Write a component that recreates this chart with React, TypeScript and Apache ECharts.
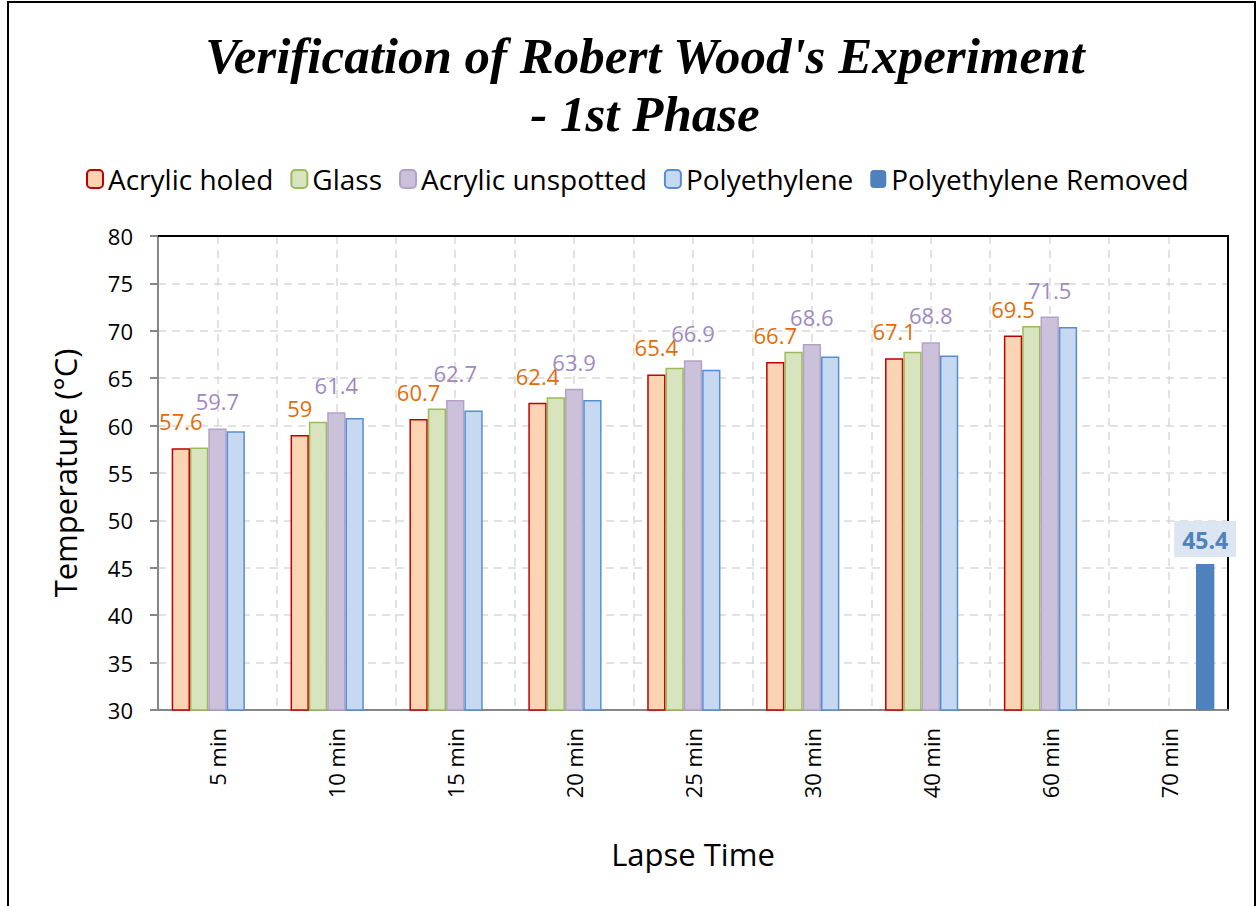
import React, { useEffect, useRef } from "react";
import * as echarts from "echarts";

const categories = ["5 min", "10 min", "15 min", "20 min", "25 min", "30 min", "40 min", "60 min", "70 min"];
const acrylicHoled = [57.6, 59, 60.7, 62.4, 65.4, 66.7, 67.1, 69.5, null];
const glass = [57.7, 60.4, 61.8, 63.0, 66.1, 67.8, 67.8, 70.5, null];
const acrylicUnspotted = [59.7, 61.4, 62.7, 63.9, 66.9, 68.6, 68.8, 71.5, null];
const polyethylene = [59.4, 60.8, 61.6, 62.7, 65.9, 67.3, 67.4, 70.4, null];
const polyethyleneRemoved = [null, null, null, null, null, null, null, null, 45.4];
const yTicks = { min: 30, max: 80, interval: 5 };

const FONT = "'Open Sans', 'Noto Sans', sans-serif";

export default function App() {
  const ref = useRef<HTMLDivElement>(null);
  useEffect(() => {
    if (!ref.current) return;
    const chart = echarts.init(ref.current, undefined, { renderer: "svg" });
    const barBase = { type: "bar", barGap: "0%", barCategoryGap: "23%", xAxisIndex: 0, yAxisIndex: 0 };
    const dataLabel = (color: string) => ({
      show: true,
      position: "top",
      distance: 16,
      fontFamily: FONT,
      fontSize: 22,
      color,
    });
    chart.setOption({
      animation: false,
      backgroundColor: "#ffffff",
      title: {
        text: "Verification of Robert Wood's Experiment\n- 1st Phase",
        left: 640,
        textAlign: "center",
        top: 22,
        textStyle: {
          fontFamily: "'Liberation Serif', serif",
          fontStyle: "italic",
          fontWeight: "bold",
          fontSize: 51,
          lineHeight: 58,
          color: "#000",
        },
      },
      graphic: [
        {
          type: "rect",
          shape: { x: 8, y: 2, width: 1247, height: 930 },
          style: { fill: "none", stroke: "#000", lineWidth: 2 },
          silent: true,
        },
      ],
      legend: {
        left: 81,
        top: 160,
        itemWidth: 16,
        itemHeight: 18,
        itemGap: 17,
        textStyle: { fontFamily: FONT, fontSize: 28, color: "#000" },
        data: ["Acrylic holed", "Glass", "Acrylic unspotted", "Polyethylene", "Polyethylene Removed"],
      },
      grid: {
        left: 158,
        right: 29,
        top: 236,
        bottom: 196,
        show: false,
      },
      xAxis: [
        {
          type: "category",
          data: categories,
          name: "Lapse Time",
          nameLocation: "middle",
          nameGap: 128,
          nameTextStyle: { fontFamily: FONT, fontSize: 31, color: "#000" },
          axisLine: { lineStyle: { color: "#868686", width: 2 } },
          axisTick: { alignWithLabel: true, length: 6, lineStyle: { color: "#868686", width: 2 } },
          axisLabel: { rotate: 90, margin: 18, fontFamily: FONT, fontSize: 22, color: "#000" },
          splitLine: { show: false },
        },
        {
          type: "value",
          min: 0,
          max: 18,
          interval: 1,
          position: "top",
          axisLine: { show: true, lineStyle: { color: "#000", width: 2 } },
          axisTick: { show: false },
          axisLabel: { show: false },
          splitLine: { show: true, lineStyle: { color: "#D9D9D9", width: 1.5, type: [8, 6] } },
        },
      ],
      yAxis: [
        {
          type: "value",
          min: yTicks.min,
          max: yTicks.max,
          interval: yTicks.interval,
          name: "Temperature (°C)",
          nameLocation: "middle",
          nameGap: 78,
          nameTextStyle: { fontFamily: FONT, fontSize: 31, color: "#000" },
          axisLine: { show: true, lineStyle: { color: "#868686", width: 2 } },
          axisTick: { show: true, length: 8, lineStyle: { color: "#868686", width: 2 } },
          axisLabel: { margin: 25, fontFamily: FONT, fontSize: 22, color: "#000" },
          splitLine: { show: true, lineStyle: { color: "#D9D9D9", width: 1.5, type: [8, 6] } },
        },
        {
          type: "value",
          min: yTicks.min,
          max: yTicks.max,
          interval: yTicks.interval,
          position: "right",
          axisLine: { show: true, lineStyle: { color: "#000", width: 2 } },
          axisTick: { show: false },
          axisLabel: { show: false },
          splitLine: { show: false },
        },
      ],
      series: [
        {
          ...barBase,
          name: "Acrylic holed",
          data: acrylicHoled,
          itemStyle: { color: "#FBD4B4", borderColor: "#C00000", borderWidth: 1.5 },
          label: dataLabel("#E36C09"),
        },
        {
          ...barBase,
          name: "Glass",
          data: glass,
          itemStyle: { color: "#D7E4BD", borderColor: "#9BBB59", borderWidth: 1.5 },
        },
        {
          ...barBase,
          name: "Acrylic unspotted",
          data: acrylicUnspotted,
          itemStyle: { color: "#CCC1DA", borderColor: "#B3A2C7", borderWidth: 1.5 },
          label: dataLabel("#9F8ABF"),
        },
        {
          ...barBase,
          name: "Polyethylene",
          data: polyethylene,
          itemStyle: { color: "#C6D9F1", borderColor: "#558ED5", borderWidth: 1.5 },
        },
        {
          ...barBase,
          name: "Polyethylene Removed",
          data: polyethyleneRemoved,
          itemStyle: { color: "#4F81BD", borderColor: "#4F81BD", borderWidth: 0 },
          label: {
            show: true,
            position: "top",
            distance: 7,
            fontFamily: FONT,
            fontSize: 23,
            fontWeight: "bold",
            color: "#4F81BD",
            backgroundColor: "#DCE6F2",
            padding: [7, 8, 6, 8],
          },
        },
      ],
    });
    return () => chart.dispose();
  }, []);
  return (
    <div
      ref={ref}
      style={{ position: "absolute", left: 0, top: 0, width: 1257, height: 906 }}
    />
  );
}
